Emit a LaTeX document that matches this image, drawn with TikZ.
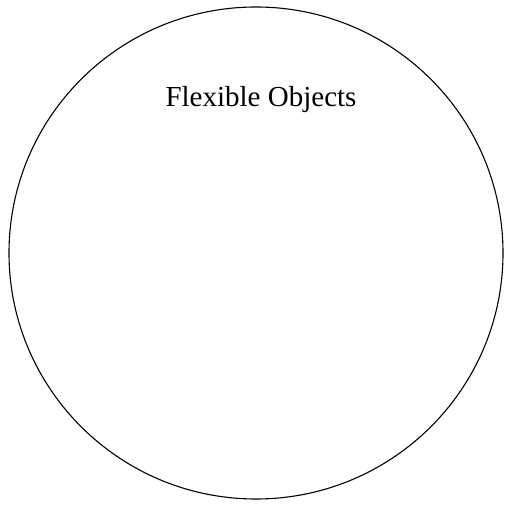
\documentclass[tikz,border=0pt]{standalone}
\usepackage{fontspec}
\setmainfont{Liberation Serif}
\usetikzlibrary{shapes.geometric}
\begin{document}
\begin{tikzpicture}[x=1pt,y=1pt,
  setshape/.style={draw=black, line width=1.1pt, ellipse, minimum width=494pt, minimum height=492pt, inner sep=0pt},
  title/.style={font=\fontsize{29}{34}\selectfont, anchor=base, inner sep=0pt}]
\useasboundingbox (0,0) rectangle (511,506);
\node[setshape] (set) at (256,253) {};
\node[title] (label) at (261,399) {Flexible Objects};
\end{tikzpicture}
\end{document}
